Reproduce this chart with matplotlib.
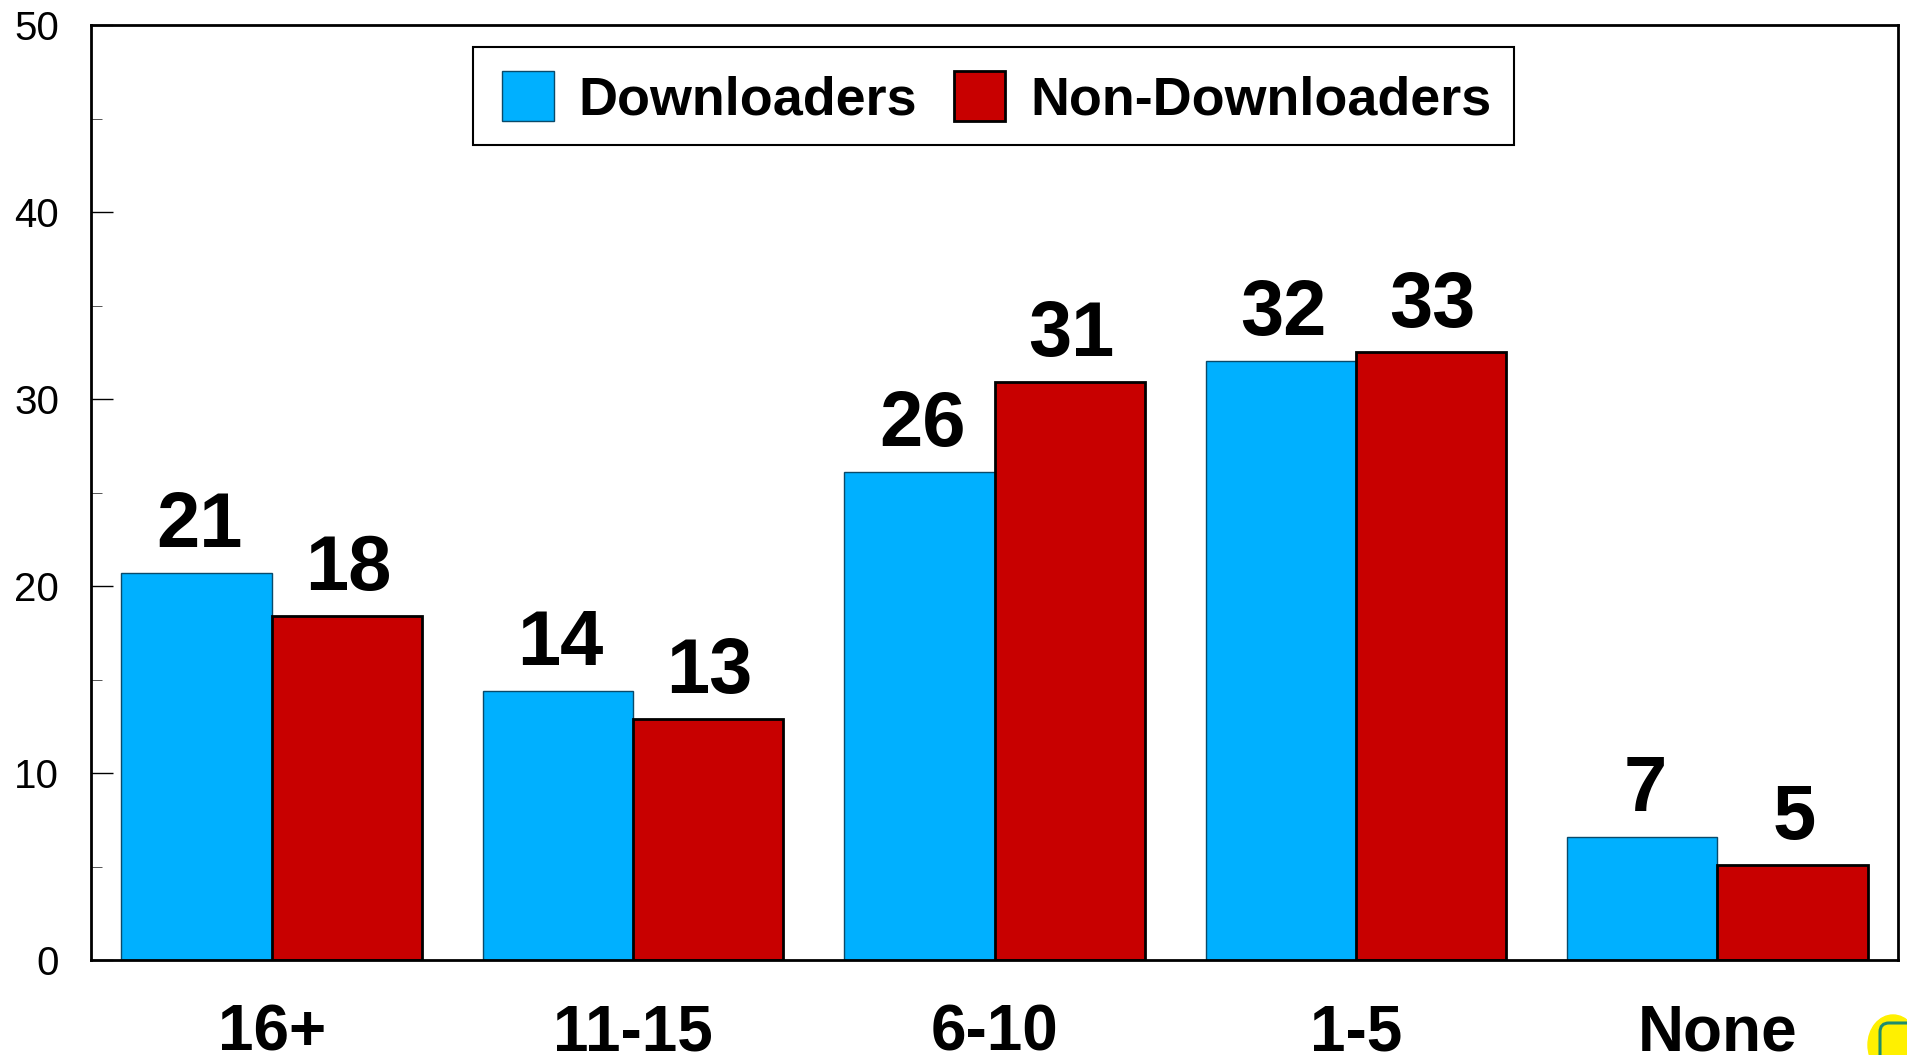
import matplotlib
matplotlib.use('Agg')
import matplotlib.pyplot as plt
from matplotlib.patches import Ellipse, FancyBboxPatch, Rectangle
from matplotlib.ticker import MultipleLocator
from matplotlib.transforms import IdentityTransform

plt.rcParams['font.family'] = ['Liberation Sans', 'DejaVu Sans']

categories = ['16+', '11-15', '6-10', '1-5', 'None']
downloaders = [20.7, 14.4, 26.1, 32.05, 6.6]
non_downloaders = [18.4, 12.9, 30.9, 32.5, 5.1]
down_labels = ['21', '14', '26', '32', '7']
non_labels = ['18', '13', '31', '33', '5']

W, H = 1907, 1055
fig = plt.figure(figsize=(W / 100, H / 100), dpi=100)
ax = fig.add_axes([91 / W, 1 - 960 / H, (1898 - 91) / W, (960 - 25) / H])

bar_width = 0.416
x = list(range(len(categories)))
ax.bar([p - bar_width / 2 for p in x], downloaders, width=bar_width, color='#00B0FF',
       edgecolor='#0A4A6A', linewidth=1, label='Downloaders')
ax.bar([p + bar_width / 2 for p in x], non_downloaders, width=bar_width, color='#C80000',
       edgecolor='black', linewidth=2, label='Non-Downloaders')

# value labels above the bars
for i in x:
    ax.annotate(down_labels[i], (i - bar_width / 2, downloaders[i]), xytext=(2, 18.5),
                textcoords='offset points', ha='center', va='baseline',
                fontsize=56, fontweight='bold')
    ax.annotate(non_labels[i], (i + bar_width / 2, non_downloaders[i]), xytext=(1, 18.5),
                textcoords='offset points', ha='center', va='baseline',
                fontsize=56, fontweight='bold')

ax.set_xlim(-0.5, len(categories) - 0.5)
ax.set_ylim(0, 50)
ax.yaxis.set_major_locator(MultipleLocator(10))
ax.yaxis.set_minor_locator(MultipleLocator(5))
ax.tick_params(axis='y', which='major', direction='in', length=16, width=1, pad=23, labelsize=29)
ax.tick_params(axis='y', which='minor', direction='in', length=8, width=0.7, color='#555555')
ax.set_xticks(x)
ax.set_xticklabels(categories, fontsize=46, fontweight='bold')
ax.tick_params(axis='x', length=0, pad=31)
for s in ax.spines.values():
    s.set_linewidth(2)

# legend frame is its own rectangle, it is wider than tall padding allows
ax.add_patch(Rectangle((473, H - 145), 1041, 98, facecolor='white', edgecolor='black', linewidth=1.5,
                       transform=IdentityTransform(), clip_on=False, zorder=4))
ax.legend(ncol=2, loc='center', bbox_to_anchor=((997 - 91) / (1898 - 91), 1 - (98 - 25) / 935),
          prop={'size': 38.8, 'weight': 'bold'}, frameon=False,
          handlelength=0.95, handleheight=1.05, handletextpad=0.46,
          columnspacing=0.69, borderpad=0.33, borderaxespad=0)

# small logo cut off in the bottom right corner
fig.add_artist(Ellipse((1893, 10), 50, 60, color='#FFF000', zorder=5, transform=IdentityTransform()))
fig.add_artist(FancyBboxPatch((1880, -20), 40, 52, boxstyle='round,pad=0,rounding_size=9',
                              facecolor='none', edgecolor='#1E8C6E', linewidth=2.2, zorder=6,
                              transform=IdentityTransform()))

fig.savefig('out.png', dpi=100)
